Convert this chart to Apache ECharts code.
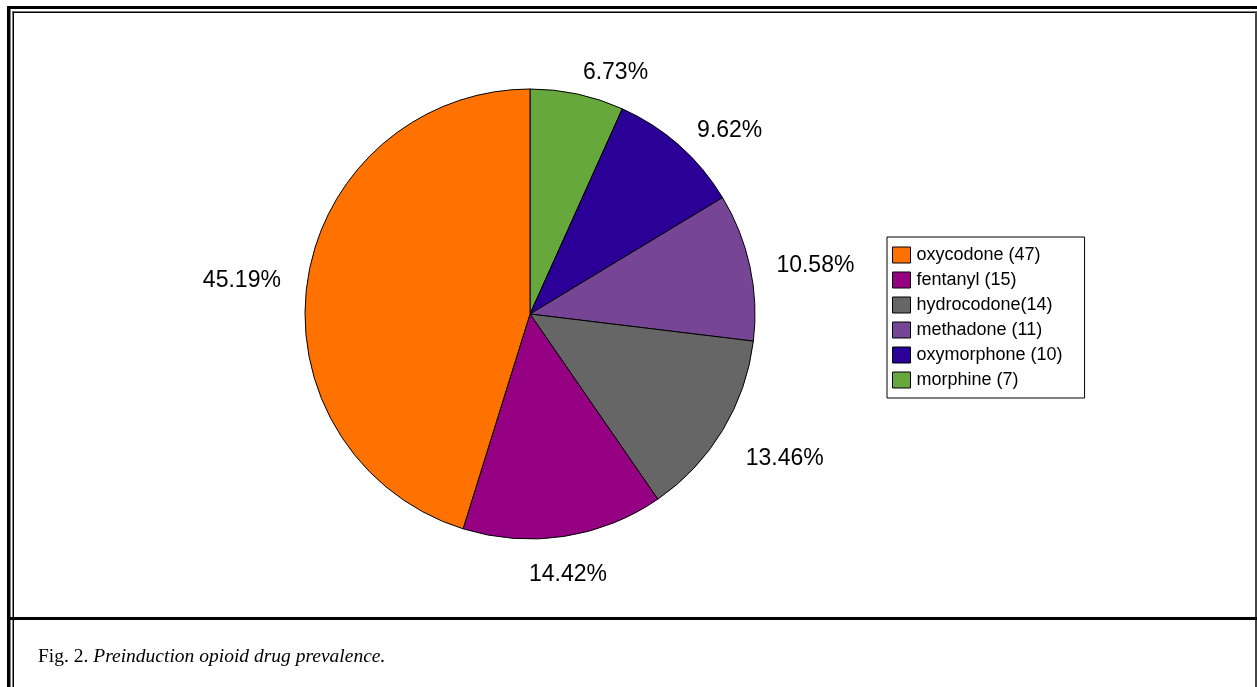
<!DOCTYPE html>
<html>
<head>
<meta charset="utf-8">
<script src="https://cdn.jsdelivr.net/npm/echarts@6/dist/echarts.min.js"></script>
<style>
html,body{margin:0;padding:0;background:#fff;}
#chart{width:1257px;height:687px;}
</style>
</head>
<body>
<div id="chart"></div>
<script>
// Slices in clockwise order starting at 12 o'clock
const drugs = ['morphine', 'oxymorphone', 'methadone', 'hydrocodone', 'fentanyl', 'oxycodone'];
const counts = [7, 10, 11, 14, 15, 47];
const legendNames = ['morphine (7)', 'oxymorphone (10)', 'methadone (11)', 'hydrocodone(14)', 'fentanyl (15)', 'oxycodone (47)'];
const legendOrder = ['oxycodone (47)', 'fentanyl (15)', 'hydrocodone(14)', 'methadone (11)', 'oxymorphone (10)', 'morphine (7)'];
const sliceColors = ['#67A83D', '#2A0097', '#774596', '#666666', '#960082', '#FF7200'];
const captionFig = 'Fig. 2. ';
const captionText = 'Preinduction opioid drug prevalence.';

const total = counts.reduce((a, b) => a + b, 0);
const CX = 530, CY = 314, R = 225;

const chart = echarts.init(document.getElementById('chart'), null, { renderer: 'canvas' });

const pieData = drugs.map((d, i) => ({
  name: legendNames[i],
  value: counts[i],
  itemStyle: { color: sliceColors[i] }
}));

chart.setOption({
  backgroundColor: '#fff',
  animation: false,
  legend: {
    orient: 'vertical',
    left: 887,
    top: 237,
    data: legendOrder,
    icon: 'rect',
    itemWidth: 18,
    itemHeight: 16,
    itemGap: 7,
    padding: [9, 22, 9, 5],
    borderColor: '#000',
    borderWidth: 1,
    backgroundColor: '#fff',
    textStyle: { fontFamily: '"Liberation Sans", Arial, sans-serif', fontSize: 18, color: '#000', padding: [0, 0, 0, 1] },
    itemStyle: { borderColor: '#000', borderWidth: 1 }
  },
  series: [{
    type: 'pie',
    center: [CX, CY],
    radius: R,
    startAngle: 90,
    clockwise: true,
    data: pieData,
    avoidLabelOverlap: false,
    itemStyle: { borderColor: '#000', borderWidth: 1 },
    emphasis: { disabled: true },
    label: {
      show: true,
      position: 'outside',
      distanceToLabelLine: 0,
      fontFamily: '"Liberation Sans", Arial, sans-serif',
      fontSize: 23,
      color: '#000',
      formatter: p => (p.value / total * 100).toFixed(2) + '%'
    },
    labelLine: { show: false, length: 27, length2: 0 },
    labelLayout: function (p) {
      const r = p.labelRect;
      const cxr = r.x + r.width / 2;
      const isLeft = cxr < CX;
      const ax = isLeft ? r.x + r.width : r.x;
      const ay = r.y + r.height / 2;
      const dx = ax - CX, dy = ay - CY;
      const len = Math.hypot(dx, dy) || 1;
      const ux = dx / len, uy = dy / len;
      let align = isLeft ? 'right' : 'left';
      let va = 'middle';
      let off = 5;
      if (uy > 0.2) { va = 'top'; off = 3; }
      if (uy > 0 && Math.abs(ux) < 0.35) { align = 'center'; off = 0; }
      return { x: ax, y: ay + off, align: align, verticalAlign: va };
    }
  }],
  graphic: [
    // outer thick frame
    { type: 'rect', silent: true, shape: { x: 7, y: 6, width: 1250, height: 3 }, style: { fill: '#000' } },
    { type: 'rect', silent: true, shape: { x: 7, y: 6, width: 3.5, height: 681 }, style: { fill: '#000' } },
    // inner thin frame
    { type: 'rect', silent: true, shape: { x: 12.5, y: 11.5, width: 1244.5, height: 1.5 }, style: { fill: '#000' } },
    { type: 'rect', silent: true, shape: { x: 12.5, y: 11.5, width: 1.5, height: 676 }, style: { fill: '#000' } },
    { type: 'rect', silent: true, shape: { x: 1255, y: 11.5, width: 2, height: 676 }, style: { fill: '#444' } },
    // separator above caption
    { type: 'rect', silent: true, shape: { x: 10, y: 617, width: 1247, height: 3 }, style: { fill: '#000' } },
    // caption
    {
      type: 'text', silent: true, left: 38, top: 647,
      style: {
        text: '{a|' + captionFig + '}{b|' + captionText + '}',
        rich: {
          a: { fontFamily: '"Liberation Serif", "DejaVu Serif", serif', fontSize: 19.5, fill: '#000' },
          b: { fontFamily: '"Liberation Serif", "DejaVu Serif", serif', fontSize: 19.5, fontStyle: 'italic', fill: '#000' }
        }
      }
    }
  ]
});
</script>
</body>
</html>
